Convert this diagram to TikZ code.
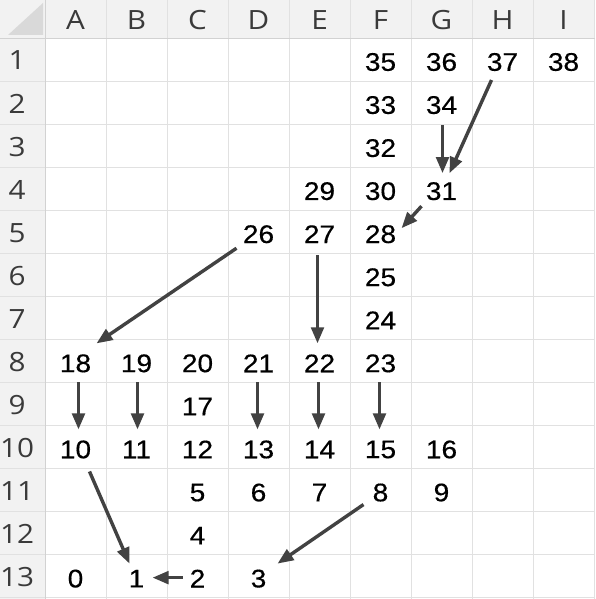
\documentclass[tikz,border=0pt]{standalone}
\usepackage{fontspec}
\setmainfont{Liberation Sans}
\newfontfamily\numfont[FakeBold=0.4]{Liberation Sans}
\newfontfamily\hdrfont{Open Sans}
\usetikzlibrary{arrows.meta}
\definecolor{hdrbg}{HTML}{F2F2F2}
\definecolor{gridc}{HTML}{E1E1E1}
\definecolor{hdrline}{HTML}{D2D2D2}
\definecolor{cornerc}{HTML}{D9D9D9}
\definecolor{hdrtext}{HTML}{3A3A3A}
\definecolor{arrc}{HTML}{424242}
\newcommand\stretchx[1]{\scalebox{1.1}[1]{#1}}
\begin{document}
\begin{tikzpicture}[x=1pt,y=-1pt,
  num/.style={font=\numfont\fontsize{25.5}{25.5}\selectfont, inner sep=0pt, yshift=-2.5pt},
  hdr/.style={font=\hdrfont\fontsize{26.5}{26.5}\selectfont, text=hdrtext, inner sep=0pt, yshift=-1pt},
  gridline/.style={draw=gridc, line width=0.9pt},
  hdrsep/.style={draw=hdrline, line width=0.9pt},
  arr/.style={draw=arrc, line width=3.4pt, -{Triangle[length=16pt,width=12.5pt]}}]
\useasboundingbox (0,0) rectangle (595,599);
\fill[white] (0,0) rectangle (595,599);
% header backgrounds
\fill[hdrbg] (0,0) rectangle (595,38);
\fill[hdrbg] (0,38) rectangle (45,599);
\fill[cornerc] (8,35) -- (43,35) -- (43,3) -- cycle;
% grid
\foreach \i in {1,...,9} {
  \draw[gridline] ({45+61*\i},38) -- ({45+61*\i},599);
  \draw[gridline] ({45+61*\i},0) -- ({45+61*\i},38);
}
\foreach \k in {1,...,13} {
  \draw[gridline] (45,{38+43.05*\k}) -- (595,{38+43.05*\k});
  \draw[gridline] (0,{38+43.05*\k}) -- (45,{38+43.05*\k});
}
\draw[hdrsep] (0,38) -- (595,38);
\draw[hdrsep] (45,0) -- (45,599);
% column headers
\foreach \L [count=\c] in {A,B,C,D,E,F,G,H,I}
  \node[hdr] (h\L) at ({45+61*(\c-0.5)},19) {\scalebox{1.12}[1]{\L}};
% row headers
\foreach \r in {1,...,13}
  \node[hdr] (r\r) at (17,{38+43.05*(\r-0.5)}) {\scalebox{1.12}[1]{\r}};
% cell values
\foreach \v/\c/\r in {35/6/1,36/7/1,37/8/1,38/9/1,33/6/2,34/7/2,32/6/3,
  29/5/4,30/6/4,31/7/4,26/4/5,27/5/5,28/6/5,25/6/6,24/6/7,
  18/1/8,19/2/8,20/3/8,21/4/8,22/5/8,23/6/8,17/3/9,
  10/1/10,11/2/10,12/3/10,13/4/10,14/5/10,15/6/10,16/7/10,
  5/3/11,6/4/11,7/5/11,8/6/11,9/7/11,4/3/12,
  0/1/13,1/2/13,2/3/13,3/4/13}
  \node[num] (n\v) at ({45+61*(\c-0.5)},{38+43.05*(\r-0.5)}) {\stretchx{\v}};
% arrows
\draw[arr] ([shift={(-11,18)}]n37.center) -- ([shift={(8,-18)}]n31.center);
\draw[arr] ([shift={(1,20)}]n34.center) -- ([shift={(1,-18)}]n31.center);
\draw[arr] ([shift={(-20,15)}]n31.center) -- ([shift={(21,-6)}]n28.center);
\draw[arr] ([shift={(-22,14)}]n26.center) -- ([shift={(21,-20)}]n18.center);
\draw[arr] ([shift={(-2,21)}]n27.center) -- ([shift={(-2,-20)}]n22.center);
\draw[arr] ([shift={(3,19)}]n18.center) -- ([shift={(3,-20)}]n10.center);
\draw[arr] ([shift={(1,19)}]n19.center) -- ([shift={(1,-20)}]n11.center);
\draw[arr] ([shift={(-1,19)}]n21.center) -- ([shift={(-1,-20)}]n13.center);
\draw[arr] ([shift={(-1,19)}]n22.center) -- ([shift={(-1,-20)}]n14.center);
\draw[arr] ([shift={(-1,19)}]n23.center) -- ([shift={(-1,-20)}]n15.center);
\draw[arr] ([shift={(14,22)}]n10.center) -- ([shift={(-7,-15)}]n1.center);
\draw[arr] ([shift={(-15,-1)}]n2.center) -- ([shift={(16,-1)}]n1.center);
\draw[arr] ([shift={(-17,12)}]n8.center) -- ([shift={(19,-15)}]n3.center);
\end{tikzpicture}
\end{document}
